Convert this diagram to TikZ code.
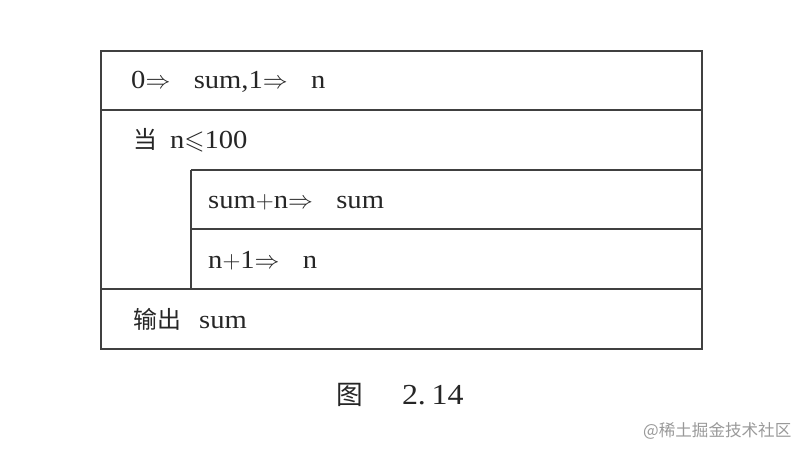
\documentclass[tikz,border=0pt]{standalone}
\usepackage{amssymb}
\usepackage{amsmath}
\usepackage{fontspec}
\setmainfont{Liberation Serif}[FakeStretch=1.1]
\newfontfamily\cjk[Scale=0.92]{Noto Sans CJK SC}
\usetikzlibrary{positioning}

\newcommand{\gives}{$\Rightarrow$\hspace{0.9em}}

\tikzset{
    rowline/.style={draw=black!75, line width=1.3pt},
    cell/.style={anchor=base west, inner sep=0pt, text=black!85,
        font=\fontsize{26}{30}\selectfont},
}

\begin{document}
\begin{tikzpicture}[x=1pt, y=-1pt]
    \useasboundingbox (0,0) rectangle (810,454);

    % Draw the outer frame and the row lines
    \draw[rowline] (101,51) rectangle (702,349);
    \foreach \y in {110, 289}
    {
        \draw[rowline] (101,\y) -- (702,\y);
    }
    \foreach \y in {170, 229}
    {
        \draw[rowline] (191,\y) -- (702,\y);
    }
    % The loop body box on the left
    \draw[rowline] (191,170) -- (191,289);

    % Draw the texts of the rows
    \node[cell] (init) at (131,89) {0\gives sum,1\gives n};
    \node[cell] (loop) at (133,149) {{\cjk 当}\hspace{0.5em}n$\leqslant$100};
    \node[cell] (add)  at (208,208) {sum$+$n\gives sum};
    \node[cell] (inc)  at (208,268) {n$+$1\gives n};
    \node[cell] (out)  at (133,328) {{\cjk 输出}\hspace{0.7em}sum};

    % Finally the caption and the mark
    \node[cell, font=\fontsize{29}{32}\selectfont] (cap) at (336,404)
        {{\cjk 图}\hspace{1.35em}2.\hspace{0.2em}14};
    \node[anchor=west, inner sep=0pt, text=black!40, font=\cjk\fontsize{18}{20}\selectfont]
        (mark) at (643,431) {@稀土掘金技术社区};
\end{tikzpicture}
\end{document}
